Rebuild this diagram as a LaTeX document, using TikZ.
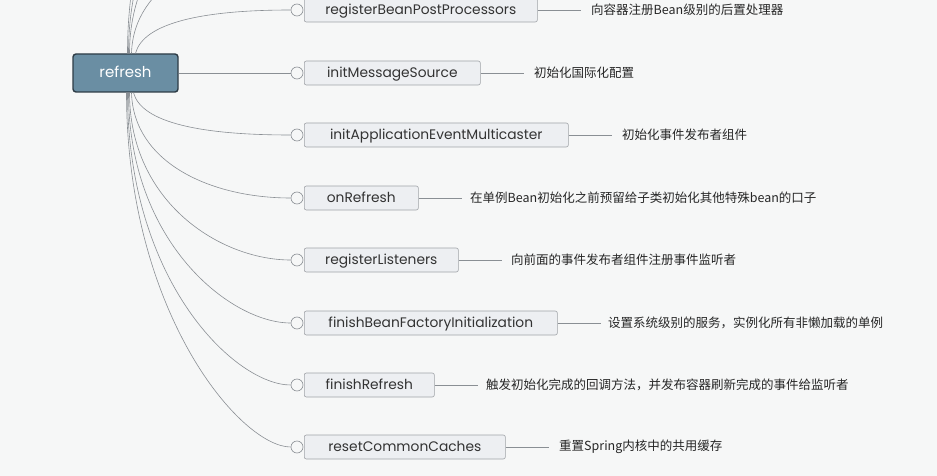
\documentclass[tikz,border=0pt]{standalone}
\usepackage{fontspec}
\newfontfamily\lblfont{Poppins}
\newfontfamily\cjk{Noto Sans CJK SC}
\definecolor{bgc}{HTML}{F6F7F7}
\definecolor{rootfill}{HTML}{6A8EA3}
\definecolor{rootdraw}{HTML}{2E3C46}
\definecolor{boxfill}{HTML}{EDEFF2}
\definecolor{boxdraw}{HTML}{A0A3A8}
\definecolor{linec}{HTML}{8A8F94}
\begin{document}
\begin{tikzpicture}[x=1pt,y=-1pt,
  root/.style={draw=rootdraw,line width=1.4pt,fill=rootfill,rounded corners=3pt,minimum width=105pt,minimum height=38pt,inner sep=0pt,text height=10pt,text depth=1pt,text=white,font=\lblfont\fontsize{15}{17}\selectfont},
  sub/.style={draw=boxdraw,line width=0.6pt,fill=boxfill,rounded corners=2pt,minimum height=24pt,inner sep=0pt,text height=9.5pt,text depth=1pt,anchor=west,font=\lblfont\fontsize{13.8}{16}\selectfont,text=black!80},
  knob/.style={circle,draw=linec,line width=0.6pt,fill=bgc,minimum size=12pt,inner sep=0pt},
  desc/.style={anchor=west,inner sep=0pt,font=\cjk\fontsize{12.5}{14}\selectfont,text=black!85},
  conn/.style={draw=linec,line width=0.6pt}]
\useasboundingbox (0,0) rectangle (937,476);
\fill[bgc] (0,0) rectangle (937,476);
\clip (0,0) rectangle (937,476);

\node[root] (refresh) at (125.5,73) {refresh};

\foreach \i/\y/\r/\d/\t/\c in {
 1/10/537/591/registerBeanPostProcessors/向容器注册Bean级别的后置处理器,
 2/73/480/534/initMessageSource/初始化国际化配置,
 3/135/568/622/initApplicationEventMulticaster/初始化事件发布者组件,
 4/198/418/470/onRefresh/在单例Bean初始化之前预留给子类初始化其他特殊bean的口子,
 5/260/458/511/registerListeners/向前面的事件发布者组件注册事件监听者,
 6/323/557/608/finishBeanFactoryInitialization/设置系统级别的服务，实例化所有非懒加载的单例,
 7/385/434/486/finishRefresh/触发初始化完成的回调方法，并发布容器刷新完成的事件给监听者,
 8/447/505/559/resetCommonCaches/重置Spring内核中的共用缓存}{
  \pgfmathsetmacro{\w}{\r-304}
  \node[sub,minimum width=\w pt] (b\i) at (304,\y) {\t};
  \node[knob] (c\i) at (297,\y) {};
  \coordinate (e\i) at (\r+44,\y);
  \node[desc] (d\i) at (\d,\y) {\c};
  \draw[conn] (b\i.east) -- (e\i);
}

% branches continuing above the frame
\coordinate (u1) at (291,-52);
\coordinate (u2) at (291,-115);
\coordinate (u3) at (291,-177);
\coordinate (u4) at (291,-240);

\draw[conn] ([xshift=10pt]refresh.north) .. controls +(8,-30) and +(-90,0) .. (c1.west);
\draw[conn] ([xshift=6pt]refresh.north) .. controls +(2,-70) and +(-80,0) .. (u1);
\draw[conn] ([xshift=4pt]refresh.north) .. controls +(0,-110) and +(-70,0) .. (u2);
\draw[conn] ([xshift=3pt]refresh.north) .. controls +(0,-150) and +(-60,0) .. (u3);
\draw[conn] ([xshift=2pt]refresh.north) .. controls +(0,-190) and +(-55,0) .. (u4);

\draw[conn] (refresh.east) -- (c2.west);

\draw[conn] ([xshift=8pt]refresh.south) .. controls +(8,30) and +(-90,0) .. (c3.west);
\draw[conn] ([xshift=6pt]refresh.south) .. controls +(2,70) and +(-80,0) .. (c4.west);
\draw[conn] ([xshift=4pt]refresh.south) .. controls +(0,110) and +(-70,0) .. (c5.west);
\draw[conn] ([xshift=3pt]refresh.south) .. controls +(0,150) and +(-60,0) .. (c6.west);
\draw[conn] ([xshift=2pt]refresh.south) .. controls +(0,190) and +(-55,0) .. (c7.west);
\draw[conn] ([xshift=1pt]refresh.south) .. controls +(0,220) and +(-50,0) .. (c8.west);
\end{tikzpicture}
\end{document}
